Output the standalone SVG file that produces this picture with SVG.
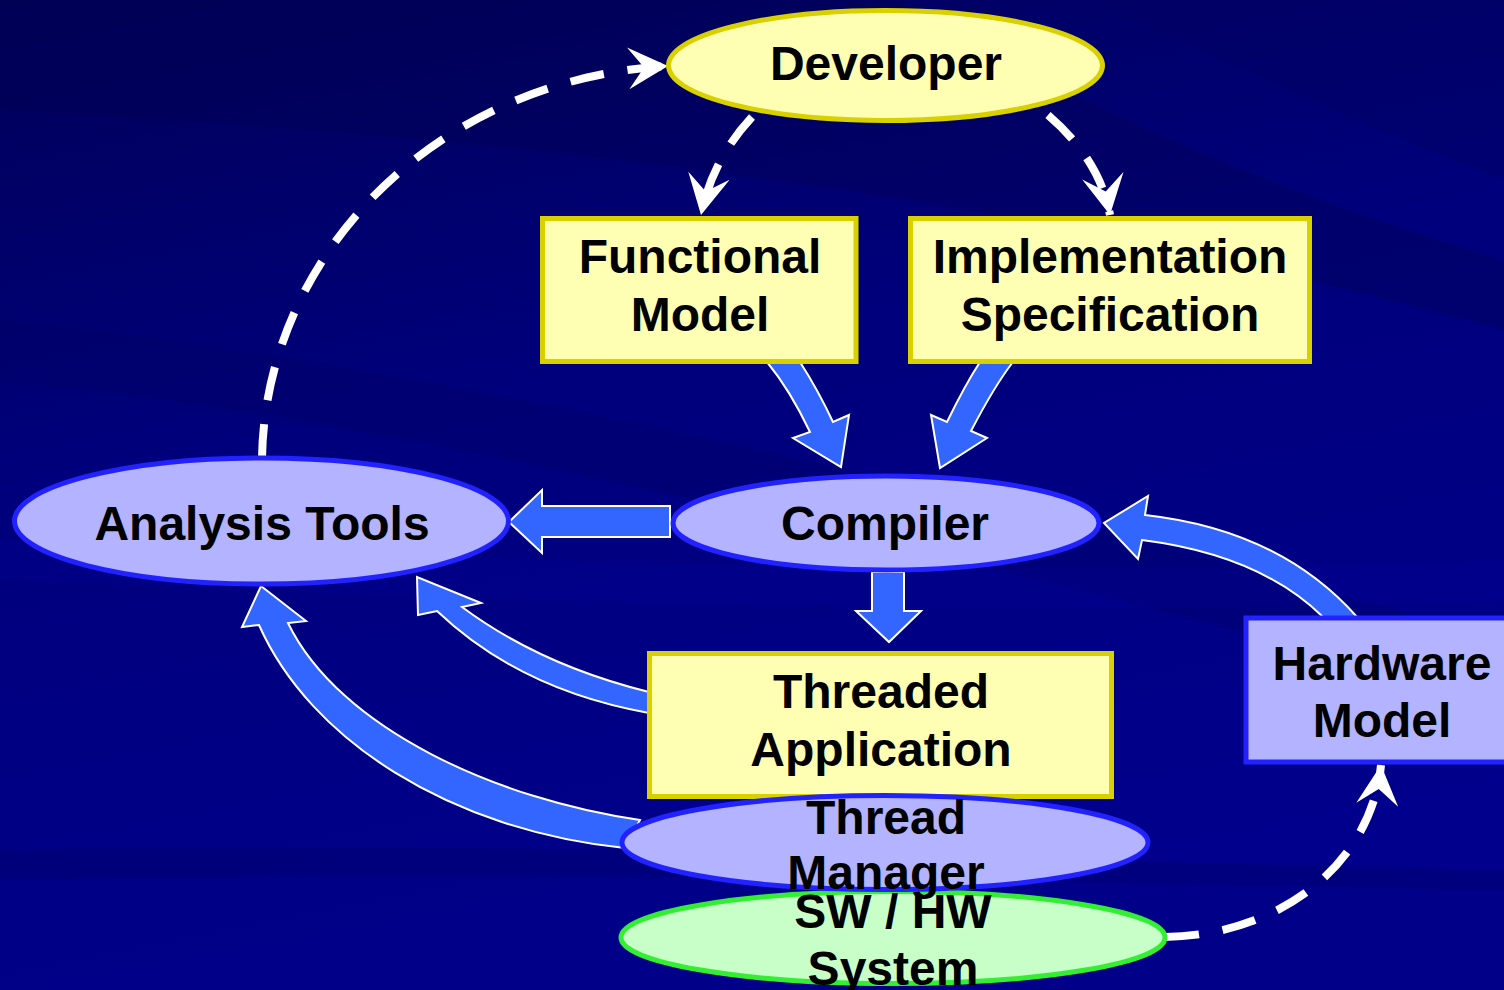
<svg xmlns="http://www.w3.org/2000/svg" width="1504" height="990" viewBox="0 0 1504 990">
<defs>
<linearGradient id="bg" x1="0" y1="0" x2="0.3" y2="1">
<stop offset="0" stop-color="#000058"/>
<stop offset="0.45" stop-color="#00007c"/>
<stop offset="1" stop-color="#00008c"/>
</linearGradient>
<marker id="ah" viewBox="0 0 40 42" refX="40" refY="21" markerWidth="40" markerHeight="42" markerUnits="userSpaceOnUse" orient="auto">
<path d="M0,0 L40,21 L0,42 L16,21 Z" fill="#ffffff"/>
</marker>
<style>
.yel{fill:#ffffb3;stroke:#d9d000;stroke-width:5}
.blu{fill:#b3b3ff;stroke:#2222ff;stroke-width:5}
.grn{fill:#c8ffc8;stroke:#33ee33;stroke-width:5}
.t{font-family:"Liberation Sans",Arial,sans-serif;font-weight:bold;font-size:48px;fill:#000;text-anchor:middle}
.dash{fill:none;stroke:#fff;stroke-width:8;stroke-dasharray:34 24;marker-end:url(#ah)}
.blk{fill:#3366ff;stroke:#fff;stroke-width:2;stroke-linejoin:miter}
</style>
</defs>
<g id="background">
<rect x="0" y="0" width="1504" height="990" fill="url(#bg)"/>
<path d="M0,0 L900,0 C1100,120 1300,200 1504,260 L1504,330 C1200,250 800,150 0,110 Z" fill="#000050" opacity="0.35"/>
<path d="M0,320 C400,360 900,470 1504,640 L1504,700 C900,540 400,420 0,380 Z" fill="#000060" opacity="0.3"/>
<path d="M1100,0 L1504,0 L1504,180 C1350,120 1220,60 1100,0 Z" fill="#000060" opacity="0.35"/>
<path d="M0,540 C500,560 1000,580 1504,560 L1504,600 C1000,620 500,600 0,580 Z" fill="#0000a0" opacity="0.2"/>
<path d="M0,850 C500,840 1000,860 1504,870 L1504,990 L0,990 Z" fill="#000070" opacity="0.5"/>
<path d="M0,880 C500,870 1000,880 1504,890 L1504,990 L0,990 Z" fill="#000090" opacity="0.6"/>
</g>
<g id="connectors">
<path class="dash" d="M262,458 C265,260 430,80 668,66"/>
<path class="dash" d="M752,117 Q712,160 701,215"/>
<path class="dash" d="M1048,115 Q1100,160 1110,215"/>
<path class="dash" d="M1165,937 C1285,935 1372,860 1381,765"/>
<path class="blk" d="M767,362 Q790,390 810,432 L793,438 L841,467 L849,415 L833,422 Q818,390 800,362 Z"/>
<path class="blk" d="M1013,362 Q995,385 971,431 L987,438 L940,468 L931,415 L947,422 Q965,385 980,362 Z"/>
<path class="blk" d="M670,506 L542,506 L542,490 L509,522 L542,553 L542,537 L670,537 Z"/>
<path class="blk" d="M872,572 L904,572 L904,611 L921,611 L889,642 L856,611 L872,611 Z"/>
<path class="blk" d="M1357,617 Q1280,530 1145,515 L1148,496 L1104,523 L1138,559 L1142,540 Q1260,555 1323,617 Z"/>
<path class="blk" d="M649,692 Q540,665 462,607 L481,603 L417,577 L418,615 L437,611 Q520,690 649,713 Z"/>
<path class="blk" d="M640,820 C500,800 340,730 288,623 L306,621 L261,586 L242,627 L259,625 C310,740 450,830 625,848 Z"/>
</g>
<g id="developer">
<ellipse class="yel" cx="885.5" cy="65.5" rx="217" ry="55"/>
<text class="t" x="886" y="80">Developer</text>
</g>
<g id="functional-model">
<rect class="yel" x="542.5" y="218.5" width="313.5" height="143"/>
<text class="t" x="700" y="273">Functional</text>
<text class="t" x="700" y="331">Model</text>
</g>
<g id="implementation-specification">
<rect class="yel" x="910.5" y="218.5" width="399" height="143"/>
<text class="t" x="1110" y="273">Implementation</text>
<text class="t" x="1110" y="331">Specification</text>
</g>
<g id="compiler">
<ellipse class="blu" cx="886" cy="523" rx="213" ry="47"/>
<text class="t" x="885" y="540">Compiler</text>
</g>
<g id="analysis-tools">
<ellipse class="blu" cx="261.5" cy="521" rx="247" ry="63"/>
<text class="t" x="262" y="540">Analysis Tools</text>
</g>
<g id="threaded-application">
<rect class="yel" x="649.5" y="653.5" width="462" height="143"/>
<text class="t" x="881" y="708">Threaded</text>
<text class="t" x="881" y="766">Application</text>
</g>
<g id="hardware-model">
<rect class="blu" x="1246" y="618" width="272" height="144"/>
<text class="t" x="1382" y="680">Hardware</text>
<text class="t" x="1382" y="737">Model</text>
</g>
<g id="sw-hw-system">
<ellipse class="grn" cx="893" cy="937.5" rx="272" ry="46"/>
</g>
<g id="thread-manager">
<ellipse class="blu" cx="885" cy="842.5" rx="263" ry="47"/>
<text class="t" x="886" y="834">Thread</text>
<text class="t" x="886" y="889">Manager</text>
</g>
<g id="sw-hw-system-label">
<text class="t" x="893" y="928">SW / HW</text>
<text class="t" x="893" y="985">System</text>
</g>
</svg>
